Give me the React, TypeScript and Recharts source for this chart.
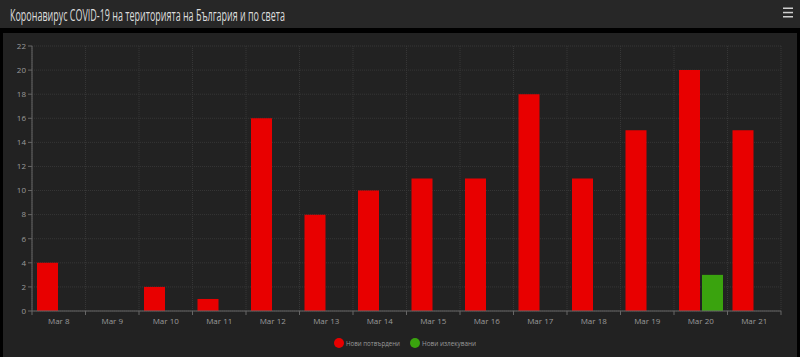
import React from 'react';
import { BarChart, Bar, XAxis, YAxis, CartesianGrid, Legend } from 'recharts';

const categories = ['Mar 8', 'Mar 9', 'Mar 10', 'Mar 11', 'Mar 12', 'Mar 13', 'Mar 14', 'Mar 15', 'Mar 16', 'Mar 17', 'Mar 18', 'Mar 19', 'Mar 20', 'Mar 21'];
const confirmed = [4, 0, 2, 1, 16, 8, 10, 11, 11, 18, 11, 15, 20, 15];
const recovered = [0, 0, 0, 0, 0, 0, 0, 0, 0, 0, 0, 0, 3, 0];
const yTicks = [0, 2, 4, 6, 8, 10, 12, 14, 16, 18, 20, 22];
const seriesNames = ['Нови потвърдени', 'Нови излекувани'];
const seriesColors = ['#e80000', '#3aa30e'];
const title = 'Коронавирус COVID-19 на територията на България и по света';

const data = categories.map((c, i) => ({ date: c, confirmed: confirmed[i], recovered: recovered[i] }));

const FONT = '"Open Sans", "DejaVu Sans", sans-serif';

const XTick = (props: any) => {
  const { x, y, payload, index, visibleTicksCount } = props;
  const half = payload && payload.offset ? payload.offset : 26.75;
  const last = index === (visibleTicksCount ?? categories.length) - 1;
  return (
    <g>
      <line x1={x - half} x2={x - half} y1={y} y2={y + 4} stroke="#666" strokeWidth={1} />
      {last && <line x1={x + half} x2={x + half} y1={y} y2={y + 4} stroke="#666" strokeWidth={1} />}
      <text x={x} y={y + 13} textAnchor="middle" fill="#9a9a9a" fontSize={8} fontFamily={FONT}>
        {payload.value}
      </text>
    </g>
  );
};

const gridX = ({ offset }: any) =>
  Array.from({ length: categories.length + 1 }, (_, i) => offset.left + (i * offset.width) / categories.length);

const LegendContent = () => (
  <div
    style={{
      display: 'flex',
      justifyContent: 'center',
      alignItems: 'center',
      height: 24,
      paddingLeft: 29,
    }}
  >
    {seriesNames.map((n, i) => (
      <div key={n} style={{ display: 'flex', alignItems: 'center', marginRight: i === 0 ? 6 : 0 }}>
        <svg width={70} height={16} style={{ display: 'block', overflow: 'visible' }}>
          <circle cx={5} cy={8} r={5} fill={seriesColors[i]} />
          <text x={12} y={11} fontSize={8} fill="#9a9a9a" fontFamily={FONT} textLength={54} lengthAdjust="spacingAndGlyphs">
            {n}
          </text>
        </svg>
      </div>
    ))}
  </div>
);

export default function App() {
  return (
    <div style={{ position: 'absolute', left: 0, top: 0, width: 800, height: 357, background: '#000', overflow: 'hidden' }}>
      <style>{`body{margin:0}`}</style>
      <svg width={800} height={28} style={{ position: 'absolute', left: 0, top: 0, display: 'block' }}>
        <rect x={0} y={0} width={800} height={28} fill="#272727" />
        <text x={10} y={21} fontSize={17} fill="#dcdcdc" fontFamily={FONT} textLength={275} lengthAdjust="spacingAndGlyphs">
          {title}
        </text>
        <rect x={783} y={7.5} width={10} height={1.5} fill="#cfcfcf" />
        <rect x={783} y={11.8} width={10} height={1.5} fill="#cfcfcf" />
        <rect x={783} y={16} width={10} height={1.5} fill="#cfcfcf" />
      </svg>
      <div style={{ position: 'absolute', left: 3, top: 33, width: 794, height: 324, background: '#222222' }}>
        <BarChart
          width={794}
          height={324}
          data={data}
          margin={{ top: 13, right: 16, left: 0, bottom: 0 }}
          barSize={21}
          barGap={2}
        >
          <CartesianGrid stroke="#363636" strokeDasharray="1 1" verticalCoordinatesGenerator={gridX} />
          <XAxis
            dataKey="date"
            height={20}
            tickSize={0}
            tickMargin={0}
            interval={0}
            tick={<XTick />}
            axisLine={{ stroke: '#666' }}
            tickLine={false}
          />
          <YAxis
            width={29}
            domain={[0, 22]}
            ticks={yTicks}
            interval={0}
            tickSize={4}
            tickMargin={2}
            axisLine={{ stroke: '#666' }}
            tickLine={{ stroke: '#666' }}
            tick={{ fill: '#9a9a9a', fontSize: 8, fontFamily: FONT }}
          />
          <Legend verticalAlign="bottom" height={26} content={<LegendContent />} />
          <Bar dataKey="confirmed" name={seriesNames[0]} fill={seriesColors[0]} isAnimationActive={false} />
          <Bar dataKey="recovered" name={seriesNames[1]} fill={seriesColors[1]} isAnimationActive={false} />
        </BarChart>
      </div>
    </div>
  );
}
